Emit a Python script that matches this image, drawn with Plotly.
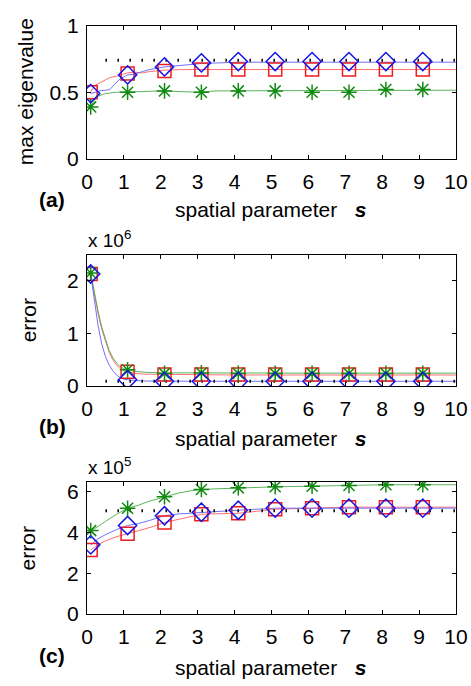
import plotly.graph_objects as go

# ---------------- data ----------------
# marker positions (spatial parameter s)
s_mark = [0.1, 1.1, 2.1, 3.1, 4.1, 5.1, 6.1, 7.1, 8.1, 9.1]

# (a) max eigenvalue
a_red_mark = [0.50, 0.64, 0.66, 0.67, 0.67, 0.67, 0.67, 0.67, 0.67, 0.67]
a_blue_mark = [0.49, 0.63, 0.69, 0.72, 0.73, 0.73, 0.73, 0.73, 0.73, 0.73]
a_green_mark = [0.39, 0.50, 0.51, 0.50, 0.51, 0.51, 0.50, 0.50, 0.52, 0.52]
a_red_s = [0.1, 0.2, 0.35, 0.5, 0.62, 0.8, 1.0, 1.1, 1.3, 1.5, 1.7, 2.1, 2.6, 3.1, 4.0, 5.0, 6.0, 7.0, 8.0, 9.0, 10.0]
a_red_v = [0.50, 0.55, 0.57, 0.59, 0.61, 0.62, 0.64, 0.645, 0.65, 0.645, 0.655, 0.665, 0.67, 0.67, 0.67, 0.67, 0.67, 0.67, 0.67, 0.67, 0.67]
a_blue_s = [0.1, 0.2, 0.35, 0.5, 0.62, 0.75, 0.9, 1.1, 1.3, 1.5, 1.7, 2.1, 2.6, 3.1, 3.6, 4.1, 5.0, 6.0, 7.0, 8.0, 9.0, 10.0]
a_blue_v = [0.49, 0.50, 0.51, 0.515, 0.52, 0.56, 0.60, 0.63, 0.635, 0.655, 0.67, 0.69, 0.705, 0.715, 0.72, 0.725, 0.725, 0.725, 0.725, 0.725, 0.725, 0.725]
a_green_s = [0.1, 0.2, 0.3, 0.5, 0.8, 1.1, 1.5, 2.0, 2.5, 3.0, 3.5, 4.0, 5.0, 6.0, 7.0, 8.0, 9.0, 10.0]
a_green_v = [0.39, 0.44, 0.47, 0.49, 0.50, 0.50, 0.505, 0.51, 0.505, 0.50, 0.51, 0.51, 0.51, 0.51, 0.51, 0.515, 0.515, 0.515]
a_ref = 0.74

# (b) error, units of 10^6
b_red_mark = [2.13, 0.27, 0.22, 0.22, 0.22, 0.22, 0.22, 0.22, 0.22, 0.22]
b_blue_mark = [2.13, 0.12, 0.09, 0.09, 0.09, 0.09, 0.09, 0.09, 0.09, 0.09]
b_green_mark = [2.15, 0.31, 0.24, 0.25, 0.24, 0.24, 0.24, 0.24, 0.24, 0.24]
b_s = [0.1, 0.2, 0.3, 0.4, 0.5, 0.6, 0.7, 0.8, 0.9, 1.0, 1.1, 1.3, 1.6, 2.1, 3.1, 4.1, 5.1, 6.1, 7.1, 8.1, 9.1, 10.0]
b_red_v = [2.13, 1.75, 1.38, 1.08, 0.84, 0.64, 0.50, 0.40, 0.33, 0.29, 0.27, 0.24, 0.225, 0.22, 0.215, 0.21, 0.21, 0.21, 0.21, 0.21, 0.21, 0.21]
b_blue_v = [2.13, 1.60, 1.15, 0.80, 0.56, 0.40, 0.29, 0.21, 0.16, 0.13, 0.12, 0.105, 0.095, 0.09, 0.09, 0.09, 0.09, 0.09, 0.09, 0.09, 0.09, 0.09]
b_green_v = [2.15, 1.78, 1.42, 1.12, 0.88, 0.68, 0.54, 0.44, 0.37, 0.33, 0.31, 0.28, 0.26, 0.25, 0.25, 0.245, 0.245, 0.245, 0.245, 0.245, 0.245, 0.245]
b_ref = 0.09

# (c) error, units of 10^5
c_red_mark = [3.15, 3.95, 4.50, 4.90, 4.95, 5.15, 5.20, 5.25, 5.25, 5.25]
c_blue_mark = [3.40, 4.35, 4.83, 5.00, 5.10, 5.20, 5.20, 5.20, 5.20, 5.20]
c_green_mark = [4.10, 5.20, 5.76, 6.12, 6.20, 6.25, 6.28, 6.32, 6.35, 6.35]
c_red_s = [0.1, 0.3, 0.5, 0.8, 1.1, 1.5, 1.8, 2.1, 2.5, 2.8, 3.1, 3.6, 4.1, 4.6, 5.1, 6.1, 7.1, 8.1, 9.1, 10.0]
c_red_v = [3.15, 3.40, 3.60, 3.80, 3.95, 4.15, 4.30, 4.50, 4.65, 4.80, 4.90, 4.93, 4.95, 5.05, 5.15, 5.20, 5.25, 5.25, 5.25, 5.25]
c_blue_s = [0.1, 0.3, 0.5, 0.8, 1.1, 1.4, 1.7, 2.1, 2.5, 3.1, 3.6, 4.1, 5.1, 6.1, 7.1, 8.1, 9.1, 10.0]
c_blue_v = [3.40, 3.70, 3.90, 4.15, 4.35, 4.45, 4.60, 4.83, 4.92, 5.00, 5.05, 5.10, 5.20, 5.20, 5.20, 5.20, 5.20, 5.20]
c_green_s = [0.1, 0.3, 0.5, 0.8, 1.1, 1.4, 1.7, 2.1, 2.5, 2.8, 3.1, 3.5, 4.1, 5.1, 6.1, 7.1, 8.1, 9.1, 10.0]
c_green_v = [4.10, 4.30, 4.55, 4.90, 5.20, 5.35, 5.55, 5.76, 5.95, 6.05, 6.12, 6.15, 6.20, 6.25, 6.28, 6.32, 6.35, 6.35, 6.35]
c_ref = 5.08

ref_s = [0.5, 10.0]

x_ticks = [0, 1, 2, 3, 4, 5, 6, 7, 8, 9, 10]
a_yticks = [0, 0.5, 1]
a_yticklabels = ["0", "0.5", "1"]
b_yticks = [0, 1, 2]
c_yticks = [0, 2, 4, 6]

RED_L, GREEN_L, BLUE_L = "#ff6060", "#4aaa4a", "#6060ff"
RED_M, GREEN_M, BLUE_M = "#ee1c1c", "#108a10", "#1515e6"
FONT = "Liberation Sans, Arial, Helvetica, sans-serif"

W, H = 471, 686
L, R = 87, 15


def py(p):
    return 1 - p / H


def px(p):
    return (p - L) / (W - L - R)


fig = go.Figure()


def add_panel(n, lines, marks, ref):
    xa = "x" if n == 1 else f"x{n}"
    ya = "y" if n == 1 else f"y{n}"
    for (xs, ys, col) in lines:
        fig.add_trace(go.Scatter(x=xs, y=ys, mode="lines", line=dict(color=col, width=0.9),
                                 xaxis=xa, yaxis=ya, showlegend=False, hoverinfo="skip"))
    fig.add_trace(go.Scatter(x=ref_s, y=[ref, ref], mode="lines",
                             line=dict(color="black", width=3, dash="1.5px,10.5px"),
                             xaxis=xa, yaxis=ya, showlegend=False, hoverinfo="skip"))
    for (ys, sym, col, size) in marks:
        fig.add_trace(go.Scatter(x=s_mark, y=ys, mode="markers",
                                 marker=dict(symbol=sym, size=size, color=col,
                                             line=dict(color=col, width=1.5)),
                                 xaxis=xa, yaxis=ya, showlegend=False, hoverinfo="skip"))


add_panel(1,
          [(a_red_s, a_red_v, RED_L), (a_green_s, a_green_v, GREEN_L), (a_blue_s, a_blue_v, BLUE_L)],
          [(a_red_mark, "square-open", RED_M, 13), (a_green_mark, "asterisk-open", GREEN_M, 13),
           (a_blue_mark, "diamond-open", BLUE_M, 14)],
          a_ref)
add_panel(2,
          [(b_s, b_red_v, RED_L), (b_s, b_green_v, GREEN_L), (b_s, b_blue_v, BLUE_L)],
          [(b_red_mark, "square-open", RED_M, 13), (b_green_mark, "asterisk-open", GREEN_M, 13),
           (b_blue_mark, "diamond-open", BLUE_M, 14)],
          b_ref)
add_panel(3,
          [(c_red_s, c_red_v, RED_L), (c_green_s, c_green_v, GREEN_L), (c_blue_s, c_blue_v, BLUE_L)],
          [(c_red_mark, "square-open", RED_M, 13), (c_green_mark, "asterisk-open", GREEN_M, 13),
           (c_blue_mark, "diamond-open", BLUE_M, 14)],
          c_ref)

axis_common = dict(showline=True, linecolor="black", linewidth=1, mirror="ticks",
                   ticks="inside", ticklen=4, tickwidth=1, tickcolor="black",
                   showgrid=False, zeroline=False,
                   tickfont=dict(family=FONT, size=21, color="black"))

domains = {1: (py(152), py(14)), 2: (py(387), py(251)), 3: (py(623), py(486))}
yranges = {1: [0, 1], 2: [0, 2.5], 3: [0, 6.5]}
yticks = {1: (a_yticks, a_yticklabels),
          2: (b_yticks, [str(v) for v in b_yticks]),
          3: (c_yticks, [str(v) for v in c_yticks])}

layout = dict(width=W, height=H, margin=dict(l=L, r=R, t=0, b=0),
              paper_bgcolor="white", plot_bgcolor="white", showlegend=False)
for n in (1, 2, 3):
    xk = "xaxis" if n == 1 else f"xaxis{n}"
    yk = "yaxis" if n == 1 else f"yaxis{n}"
    ya = "y" if n == 1 else f"y{n}"
    xa = "x" if n == 1 else f"x{n}"
    layout[xk] = dict(axis_common, domain=[0, 1], range=[0, 10], tickvals=x_ticks,
                      anchor=ya, ticklabelstandoff=4)
    layout[yk] = dict(axis_common, domain=list(domains[n]), range=yranges[n],
                      tickvals=yticks[n][0], ticktext=yticks[n][1], anchor=xa,
                      ticklabelstandoff=3)
fig.update_layout(**layout)

ann = []
tf = dict(family=FONT, size=21, color="black")
xtitle = "spatial parameter   <b><i>s</i></b>"
for yc in (204, 441, 678):
    ann.append(dict(text=xtitle, x=px(270), y=py(yc), xanchor="center", yanchor="middle"))
for lab, yc in (("(a)", 194), ("(b)", 429), ("(c)", 666)):
    ann.append(dict(text=f"<b>{lab}</b>", x=px(52), y=py(yc), xanchor="center", yanchor="middle"))
for lab, xc, yc in (("max eigenvalue", 25, 83), ("error", 28, 319), ("error", 27, 555)):
    ann.append(dict(text=lab, x=px(xc), y=py(yc), xanchor="center", yanchor="middle", textangle=-90))
for lab, yc in (("x 10<sup>6</sup>", 235), ("x 10<sup>5</sup>", 470)):
    ann.append(dict(text=lab, x=px(86), y=py(yc), xanchor="left", yanchor="middle",
                    font=dict(family=FONT, size=19, color="black")))
for a in ann:
    a.setdefault("font", tf)
    a.update(xref="paper", yref="paper", showarrow=False)
fig.update_layout(annotations=ann)

fig.write_html("out.html")
